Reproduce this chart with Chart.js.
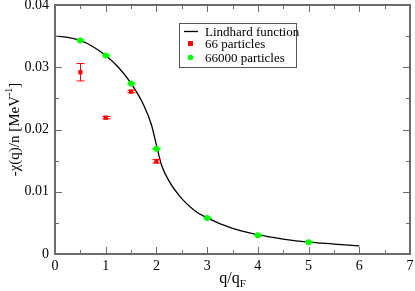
<!DOCTYPE html>
<html>
<head>
<meta charset="utf-8">
<script src="https://cdn.jsdelivr.net/npm/chart.js@4.4.1/dist/chart.umd.min.js"></script>
<style>
  html, body { margin: 0; padding: 0; background: #ffffff; }
  #wrap { width: 415px; height: 291px; }
</style>
</head>
<body>
<div id="wrap"><canvas id="chart" width="415" height="291"></canvas></div>
<script>
// Lindhard curve
const lindhardQ = [0, 0.25, 0.5, 0.75, 1, 1.25, 1.5, 1.75, 1.9, 2, 2.1, 2.25, 2.5, 2.75, 3, 3.5, 4, 4.5, 5, 5.5, 6];
const lindhardChi = [0.0350, 0.0348, 0.0343, 0.0333, 0.0319, 0.0300, 0.0274, 0.0239, 0.0208, 0.0175, 0.0143, 0.0117, 0.0089, 0.0070, 0.0058, 0.0041, 0.0031, 0.0024, 0.0019, 0.0016, 0.0013];

// 66 particles
const smallQ = [0.5, 1, 1.5, 2];
const smallChi = [0.0292, 0.0219, 0.0261, 0.0149];
const smallErr = [0.0014, 0.0002, 0.0002, 0.0003];

// 66000 particles
const bigQ = [0.5, 1, 1.5, 2, 3, 4, 5];
const bigChi = [0.0343, 0.0319, 0.0274, 0.0169, 0.0058, 0.0030, 0.0019];
const bigErr = [0.0001, 0.0001, 0.0001, 0.0001, 0.0001, 0.0001, 0.0001];

const xTicks = [0, 1, 2, 3, 4, 5, 6, 7];
const xTickLabels = ["0", "1", "2", "3", "4", "5", "6", "7"];
const yTicks = [0, 0.01, 0.02, 0.03, 0.04];
const yTickLabels = ["0", "0.01", "0.02", "0.03", "0.04"];

const legendLabels = ["Lindhard function", "66 particles", "66000 particles"];

const SERIF = "'Liberation Serif', 'DejaVu Serif', serif";
const AXIS_COLOR = "#6b6b6b";
const RED = "#ff0000";
const GREEN = "#00ff00";

function toPoints(xs, ys) {
  return xs.map((x, i) => ({ x: x, y: ys[i] }));
}

const errorBarPlugin = {
  id: "errorBars",
  afterDatasetsDraw(chart) {
    const ctx = chart.ctx;
    const xs = chart.scales.x;
    const ys = chart.scales.y;
    const sets = [
      { q: smallQ, v: smallChi, e: smallErr, color: RED },
      { q: bigQ, v: bigChi, e: bigErr, color: GREEN }
    ];
    ctx.save();
    ctx.lineWidth = 1;
    sets.forEach((s) => {
      ctx.strokeStyle = s.color;
      s.q.forEach((q, i) => {
        const px = Math.round(xs.getPixelForValue(q)) + 0.5;
        const top = ys.getPixelForValue(s.v[i] + s.e[i]);
        const bot = ys.getPixelForValue(s.v[i] - s.e[i]);
        ctx.beginPath();
        ctx.moveTo(px, top);
        ctx.lineTo(px, bot);
        ctx.moveTo(px - 4, top);
        ctx.lineTo(px + 4, top);
        ctx.moveTo(px - 4, bot);
        ctx.lineTo(px + 4, bot);
        ctx.stroke();
      });
    });
    ctx.restore();
  }
};

const framePlugin = {
  id: "frame",
  afterDraw(chart) {
    const ctx = chart.ctx;
    const a = chart.chartArea;
    const xs = chart.scales.x;
    const ys = chart.scales.y;
    ctx.save();
    ctx.strokeStyle = AXIS_COLOR;
    ctx.lineWidth = 2;
    ctx.strokeRect(a.left, a.top, a.right - a.left, a.bottom - a.top);

    ctx.lineWidth = 1;
    ctx.beginPath();
    for (let v = 0; v <= 7.001; v += 0.5) {
      const px = Math.round(xs.getPixelForValue(v)) + 0.5;
      const len = Math.abs(v - Math.round(v)) < 1e-6 ? 7 : 4;
      ctx.moveTo(px, a.bottom);
      ctx.lineTo(px, a.bottom - len);
      ctx.moveTo(px, a.top);
      ctx.lineTo(px, a.top + len);
    }
    for (let v = 0; v <= 0.04001; v += 0.005) {
      const py = Math.round(ys.getPixelForValue(v)) + 0.5;
      const len = Math.abs(v * 100 - Math.round(v * 100)) < 1e-6 ? 7 : 4;
      ctx.moveTo(a.left, py);
      ctx.lineTo(a.left + len, py);
      ctx.moveTo(a.right, py);
      ctx.lineTo(a.right - len, py);
    }
    ctx.stroke();

    // axis titles
    ctx.fillStyle = "#000000";
    ctx.textBaseline = "alphabetic";
    const cx = (a.left + a.right) / 2;
    ctx.font = "16px " + SERIF;
    const mainW = ctx.measureText("q/q").width;
    ctx.font = "11px " + SERIF;
    const subW = ctx.measureText("F").width;
    let sx = cx - (mainW + subW) / 2;
    ctx.font = "16px " + SERIF;
    ctx.textAlign = "left";
    ctx.fillText("q/q", sx, 283);
    ctx.font = "11px " + SERIF;
    ctx.fillText("F", sx + mainW, 287);

    ctx.save();
    ctx.translate(19, (a.top + a.bottom) / 2);
    ctx.rotate(-Math.PI / 2);
    ctx.font = "15px " + SERIF;
    const partA = "-\u03c7(q)/n [MeV";
    const wA = ctx.measureText(partA).width;
    ctx.font = "10px " + SERIF;
    const wSup = ctx.measureText("-1").width;
    ctx.font = "15px " + SERIF;
    const wB = ctx.measureText("]").width;
    let ty = -(wA + wSup + wB) / 2;
    ctx.fillText(partA, ty, 0);
    ctx.font = "10px " + SERIF;
    ctx.fillText("-1", ty + wA, -7);
    ctx.font = "15px " + SERIF;
    ctx.fillText("]", ty + wA + wSup, 0);
    ctx.restore();

    // legend box
    ctx.strokeStyle = "#555555";
    ctx.lineWidth = 1;
    ctx.strokeRect(179.5, 23.5, 117, 44);
    ctx.strokeStyle = "#000000";
    ctx.lineWidth = 1.3;
    ctx.beginPath();
    ctx.moveTo(184, 31.5);
    ctx.lineTo(198, 31.5);
    ctx.stroke();
    ctx.fillStyle = RED;
    ctx.fillRect(188, 41, 5, 5);
    ctx.fillStyle = GREEN;
    ctx.beginPath();
    ctx.arc(190.5, 57.5, 2.8, 0, Math.PI * 2);
    ctx.fill();
    ctx.fillStyle = "#000000";
    ctx.font = "13px " + SERIF;
    ctx.textAlign = "left";
    ctx.fillText(legendLabels[0], 205, 36);
    ctx.fillText(legendLabels[1], 205, 48);
    ctx.fillText(legendLabels[2], 205, 62);
    ctx.restore();
  }
};

new Chart(document.getElementById("chart"), {
  type: "scatter",
  data: {
    datasets: [
      {
        label: legendLabels[0],
        data: toPoints(lindhardQ, lindhardChi),
        showLine: true,
        borderColor: "#000000",
        borderWidth: 1.3,
        pointRadius: 0,
        cubicInterpolationMode: "monotone",
        order: 3
      },
      {
        label: legendLabels[1],
        data: toPoints(smallQ, smallChi),
        pointStyle: "rect",
        pointRadius: 3,
        backgroundColor: RED,
        borderColor: RED,
        borderWidth: 0,
        order: 1
      },
      {
        label: legendLabels[2],
        data: toPoints(bigQ, bigChi),
        pointStyle: "circle",
        pointRadius: 3,
        backgroundColor: GREEN,
        borderColor: GREEN,
        borderWidth: 0,
        order: 2
      }
    ]
  },
  options: {
    responsive: false,
    animation: false,
    layout: { padding: { top: 5, right: 5, left: 0, bottom: 0 } },
    plugins: {
      legend: { display: false },
      tooltip: { enabled: false }
    },
    scales: {
      x: {
        type: "linear",
        min: 0,
        max: 7,
        grid: { display: false, drawTicks: false },
        border: { display: false },
        afterBuildTicks(scale) {
          scale.ticks = xTicks.map((v) => ({ value: v }));
        },
        afterFit(scale) {
          scale.height = 37;
          scale.paddingLeft = 0;
          scale.paddingRight = 0;
        },
        ticks: {
          color: "#000000",
          font: { family: SERIF, size: 14 },
          padding: 4,
          maxRotation: 0,
          callback(value) {
            const i = xTicks.indexOf(value);
            return i >= 0 ? xTickLabels[i] : "";
          }
        }
      },
      y: {
        type: "linear",
        min: 0,
        max: 0.04,
        grid: { display: false, drawTicks: false },
        border: { display: false },
        afterBuildTicks(scale) {
          scale.ticks = yTicks.map((v) => ({ value: v }));
        },
        afterFit(scale) {
          scale.width = 55;
          scale.paddingTop = 0;
          scale.paddingBottom = 0;
        },
        ticks: {
          color: "#000000",
          font: { family: SERIF, size: 14 },
          padding: 6,
          callback(value) {
            const i = yTicks.findIndex((t) => Math.abs(t - value) < 1e-9);
            return i >= 0 ? yTickLabels[i] : "";
          }
        }
      }
    }
  },
  plugins: [errorBarPlugin, framePlugin]
});
</script>
</body>
</html>
